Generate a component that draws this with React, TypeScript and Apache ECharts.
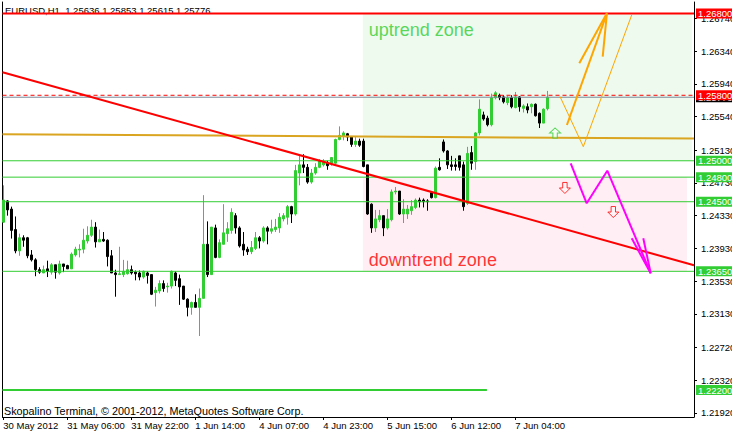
import React, { useEffect, useRef } from "react";
import * as echarts from "echarts";

// ---- data ----
const xLabelBars = [0, 16, 32, 48, 64, 80, 96, 112, 128];
const xLabelTexts = ["30 May 2012", "31 May 06:00", "31 May 22:00", "1 Jun 14:00", "4 Jun 07:00", "4 Jun 23:00", "5 Jun 15:00", "6 Jun 12:00", "7 Jun 04:00"];
const yTickValues = [1.2192, 1.2232, 1.2272, 1.2313, 1.2353, 1.2393, 1.2433, 1.2473, 1.2513, 1.2554, 1.2594, 1.2634, 1.2674];

const openP = [
  1.2425, 1.2451, 1.2441, 1.2416, 1.2390, 1.2406, 1.2406, 1.2385, 1.2379, 1.2367,
  1.2363, 1.2368, 1.2364, 1.2373, 1.2363, 1.2374, 1.2372, 1.2368, 1.2385, 1.2391,
  1.2392, 1.2402, 1.2409, 1.2419, 1.2401, 1.2404, 1.2403, 1.2384, 1.2363, 1.2361,
  1.2361, 1.2362, 1.2367, 1.2364, 1.2363, 1.2358, 1.2363, 1.2361, 1.2339, 1.2341,
  1.2350, 1.2346, 1.2347, 1.2363, 1.2356, 1.2347, 1.2331, 1.2321, 1.2327, 1.2321,
  1.2332, 1.2398, 1.2361, 1.2418, 1.2382, 1.2398, 1.2411, 1.2415, 1.2433, 1.2418,
  1.2398, 1.2392, 1.2389, 1.2393, 1.2406, 1.2402, 1.2418, 1.2414, 1.2416, 1.2418,
  1.2429, 1.2431, 1.2444, 1.2435, 1.2485, 1.2495, 1.2492, 1.2474, 1.2485, 1.2492,
  1.2495, 1.2497, 1.2497, 1.2497, 1.2526, 1.2530, 1.2533, 1.2529, 1.2520, 1.2524,
  1.2524, 1.2495, 1.2447, 1.2418, 1.2428, 1.2433, 1.2418, 1.2428, 1.2462, 1.2463,
  1.2435, 1.2435, 1.2439, 1.2443, 1.2452, 1.2452, 1.2451, 1.2461, 1.2455, 1.2492,
  1.2523, 1.2512, 1.2495, 1.2495, 1.2506, 1.2495, 1.2448, 1.2510, 1.2499, 1.2534,
  1.2556, 1.2552, 1.2544, 1.2577, 1.2580, 1.2578, 1.2571, 1.2577, 1.2565, 1.2578,
  1.2564, 1.2566, 1.2566, 1.2569, 1.2558, 1.2546, 1.25636,
];
const closeP = [
  1.2452, 1.2440, 1.2415, 1.2390, 1.2406, 1.2403, 1.2384, 1.2379, 1.2367, 1.2364,
  1.2367, 1.2365, 1.2373, 1.2364, 1.2374, 1.2371, 1.2368, 1.2386, 1.2392, 1.2392,
  1.2403, 1.2409, 1.2419, 1.2401, 1.2404, 1.2402, 1.2383, 1.2363, 1.2361, 1.2362,
  1.2365, 1.2367, 1.2363, 1.2362, 1.2358, 1.2365, 1.2360, 1.2337, 1.2342, 1.2350,
  1.2344, 1.2347, 1.2365, 1.2354, 1.2346, 1.2331, 1.2321, 1.2327, 1.2321, 1.2332,
  1.2398, 1.2361, 1.2419, 1.2382, 1.2400, 1.2412, 1.2417, 1.2437, 1.2418, 1.2396,
  1.2391, 1.2389, 1.2394, 1.2406, 1.2402, 1.2418, 1.2414, 1.2417, 1.2419, 1.2431,
  1.2433, 1.2444, 1.2435, 1.2488, 1.2495, 1.2492, 1.2474, 1.2485, 1.2492, 1.2500,
  1.2498, 1.2494, 1.2504, 1.2526, 1.2531, 1.2534, 1.2529, 1.2520, 1.2524, 1.2519,
  1.2493, 1.2435, 1.2418, 1.2429, 1.2433, 1.2418, 1.2429, 1.2462, 1.2463, 1.2435,
  1.2441, 1.2441, 1.2444, 1.2452, 1.2450, 1.2450, 1.2450, 1.2455, 1.2491, 1.2489,
  1.2512, 1.2495, 1.2493, 1.2493, 1.2492, 1.2444, 1.2509, 1.2497, 1.2534, 1.2563,
  1.2551, 1.2544, 1.2577, 1.2583, 1.2577, 1.2572, 1.2577, 1.2566, 1.2578, 1.2566,
  1.2567, 1.2562, 1.2569, 1.2555, 1.2546, 1.2563, 1.25776,
];
const lowP = [
  1.2424, 1.2433, 1.2405, 1.2387, 1.2384, 1.2395, 1.2381, 1.2377, 1.2359, 1.2362,
  1.2363, 1.2358, 1.2361, 1.2356, 1.2361, 1.2364, 1.2368, 1.2368, 1.2383, 1.2382,
  1.2387, 1.2399, 1.2407, 1.2394, 1.2401, 1.2401, 1.2371, 1.2363, 1.2334, 1.2361,
  1.2358, 1.2361, 1.2361, 1.2354, 1.2354, 1.2356, 1.2350, 1.2336, 1.2322, 1.2338,
  1.2340, 1.2339, 1.2344, 1.2347, 1.2324, 1.2330, 1.2310, 1.2312, 1.2321, 1.2286,
  1.2332, 1.2358, 1.2361, 1.2381, 1.2381, 1.2398, 1.2401, 1.2411, 1.2411, 1.2394,
  1.2384, 1.2385, 1.2386, 1.2391, 1.2393, 1.2400, 1.2398, 1.2411, 1.2413, 1.2412,
  1.2426, 1.2422, 1.2424, 1.2433, 1.2470, 1.2485, 1.2472, 1.2472, 1.2483, 1.2491,
  1.2493, 1.2489, 1.2494, 1.2496, 1.2525, 1.2525, 1.2524, 1.2517, 1.2517, 1.2517,
  1.2492, 1.2434, 1.2412, 1.2413, 1.2425, 1.2408, 1.2416, 1.2426, 1.2459, 1.2434,
  1.2424, 1.2429, 1.2434, 1.2441, 1.2443, 1.2443, 1.2439, 1.2454, 1.2454, 1.2488,
  1.2510, 1.2490, 1.2488, 1.2488, 1.2488, 1.2439, 1.2446, 1.2489, 1.2489, 1.2531,
  1.2549, 1.2542, 1.2542, 1.2575, 1.2574, 1.2570, 1.2568, 1.2564, 1.2564, 1.2560,
  1.2559, 1.2558, 1.2558, 1.2554, 1.2540, 1.2546, 1.25615,
];
const highP = [
  1.2470, 1.2452, 1.2444, 1.2432, 1.2411, 1.2409, 1.2407, 1.2391, 1.2381, 1.2370,
  1.2372, 1.2378, 1.2375, 1.2373, 1.2378, 1.2374, 1.2373, 1.2388, 1.2395, 1.2398,
  1.2417, 1.2420, 1.2428, 1.2425, 1.2416, 1.2413, 1.2404, 1.2391, 1.2367, 1.2395,
  1.2379, 1.2378, 1.2372, 1.2366, 1.2366, 1.2366, 1.2365, 1.2361, 1.2346, 1.2354,
  1.2354, 1.2351, 1.2366, 1.2365, 1.2361, 1.2347, 1.2332, 1.2328, 1.2337, 1.2344,
  1.2458, 1.2426, 1.2419, 1.2422, 1.2404, 1.2447, 1.2425, 1.2442, 1.2436, 1.2420,
  1.2413, 1.2395, 1.2402, 1.2413, 1.2408, 1.2420, 1.2420, 1.2428, 1.2429, 1.2436,
  1.2436, 1.2446, 1.2445, 1.2495, 1.2508, 1.2508, 1.2496, 1.2490, 1.2497, 1.2502,
  1.2502, 1.2500, 1.2504, 1.2527, 1.2542, 1.2536, 1.2534, 1.2530, 1.2529, 1.2527,
  1.2527, 1.2495, 1.2448, 1.2440, 1.2440, 1.2433, 1.2441, 1.2465, 1.2468, 1.2463,
  1.2453, 1.2446, 1.2452, 1.2454, 1.2455, 1.2454, 1.2453, 1.2463, 1.2493, 1.2503,
  1.2526, 1.2513, 1.2506, 1.2503, 1.2506, 1.2499, 1.2517, 1.2518, 1.2535, 1.2575,
  1.2560, 1.2555, 1.2582, 1.2585, 1.2582, 1.2580, 1.2579, 1.2580, 1.2584, 1.2579,
  1.2569, 1.2570, 1.2570, 1.2570, 1.2559, 1.2564, 1.25853,
];

const resistanceLevels = [1.268];
const greenLevels = [1.25, 1.248, 1.245, 1.2365];
const alertLevel = 1.258;
const bidPrice = 1.25776;
const lowSupport = [[-0.2, 1.222], [120.9, 1.222]];
const redTrend = [[-0.2, 1.26082], [172.675, 1.23724]];
const goldTrend = [[-0.2, 1.25324], [172.675, 1.25271]];
const orangeShaft = [[140.9, 1.25437], [150.9, 1.26801]];
const orangeHead = [[144.0, 1.2619], [150.9, 1.26801], [149.85, 1.26271]];
const orangeThin = [[139.2, 1.25782], [145.0, 1.25172], [157.1, 1.2678]];
const magentaPath = [[141.85, 1.24969], [145.85, 1.24481], [151.0, 1.24879], [161.85, 1.23626]];
const magentaHead = [[157.1, 1.24053], [161.85, 1.23626], [160.0, 1.24053]];
const upArrowMarks = [[137.95, 1.25339]];
const downArrowMarks = [[140.4, 1.24668], [152.5, 1.24374]];
const uptrendZone = [[89.9, 1.268], [172.1, 1.25]];
const downtrendZone = [[89.9, 1.248], [170.9, 1.2365]];
const uptrendLabelAt = [91.25, 1.26592];
const downtrendLabelAt = [91.25, 1.23784];

const FONT = "Liberation Sans";
const GREEN = "#32CD32";
const RED = "#FF0000";
const X_MIN = -0.2;
const X_MAX = 172.675;

export default function App() {
  const ref = useRef<HTMLDivElement>(null);
  useEffect(() => {
    if (!ref.current) return;
    const chart = echarts.init(ref.current, undefined, { renderer: "svg" });
    const last = openP.length - 1;
    const header = `EURUSD,H1\u00A0 ${openP[last].toFixed(5)} ${highP[last].toFixed(5)} ${lowP[last].toFixed(5)} ${closeP[last].toFixed(5)}`;
    const candles = openP.map((o, i) => [i, o, closeP[i], lowP[i], highP[i]]);
    const fmt = (p: any) => Number(p.value).toFixed(5);
    const boxLabel = (bg: string) => ({
      show: true, position: "end", distance: 2, formatter: fmt, color: "#fff",
      backgroundColor: bg, padding: [1, 2, 0, 2], fontSize: 9.5, lineHeight: 9, fontFamily: FONT,
    });
    const yMin = 1.21871, yMax = 1.26939;
    const lineSeries = (data: number[][], color: string, width: number, z = 5, type: any = "solid") => ({
      type: "line", data, showSymbol: false, symbol: "none", silent: true, z,
      lineStyle: { color, width, type, opacity: 1 }, animation: false,
    });
    const level = (v: number) => [[X_MIN, v], [X_MAX, v]];
    const option: any = {
      animation: false,
      backgroundColor: "#fff",
      grid: { left: 2.5, right: 38, top: 2, bottom: 17, containLabel: false, outerBoundsMode: "none" },
      xAxis: {
        type: "value", min: X_MIN, max: X_MAX,
        axisLine: { show: true, onZero: false, lineStyle: { color: "#000", width: 1 } },
        axisTick: { show: true, length: 3, customValues: xLabelBars, lineStyle: { color: "#000" } },
        axisLabel: {
          show: true, customValues: xLabelBars, align: "left", margin: 3,
          formatter: (v: number) => { const k = xLabelBars.indexOf(Math.round(v)); return k >= 0 ? xLabelTexts[k] : ""; },
          color: "#000", fontSize: 9.5, fontFamily: FONT,
        },
        splitLine: { show: false },
      },
      yAxis: [
        {
          type: "value", position: "right", min: yMin, max: yMax,
          axisLine: { show: true, onZero: false, lineStyle: { color: "#000", width: 1 } },
          axisTick: { show: true, length: 3, customValues: yTickValues, lineStyle: { color: "#000" } },
          axisLabel: { show: true, customValues: yTickValues, formatter: (v: number) => v.toFixed(5), margin: 7, color: "#000", fontSize: 9.5, fontFamily: FONT },
          splitLine: { show: false },
        },
        {
          type: "value", position: "left", min: yMin, max: yMax,
          axisLine: { show: true, onZero: false, lineStyle: { color: "#000", width: 1 } },
          axisTick: { show: false }, axisLabel: { show: false }, splitLine: { show: false },
        },
      ],
      graphic: [
        { type: "text", x: 5, y: 10.3, z: 0, style: { text: header, fill: "#000", font: `9.5px "${FONT}"`, verticalAlign: "middle", align: "left" } },
        { type: "text", x: 4, y: 410.5, z: 0, style: { text: "Skopalino Terminal, © 2001-2012, MetaQuotes Software Corp.", fill: "#000", font: `10.8px "${FONT}"`, verticalAlign: "middle", align: "left" } },
      ],
      series: [
        {
          type: "line", data: [], z: 1, silent: true,
          markArea: {
            silent: true, precision: 5,
            data: [
              [{ xAxis: uptrendZone[0][0], yAxis: uptrendZone[0][1], itemStyle: { color: "#EDFAED" } }, { xAxis: uptrendZone[1][0], yAxis: uptrendZone[1][1] }],
              [{ xAxis: downtrendZone[0][0], yAxis: downtrendZone[0][1], itemStyle: { color: "#FFEEF3" } }, { xAxis: downtrendZone[1][0], yAxis: downtrendZone[1][1] }],
            ],
          },
        },
        {
          type: "scatter", data: [uptrendLabelAt], symbolSize: 1, z: 2, silent: true,
          itemStyle: { color: "rgba(0,0,0,0)" },
          label: { show: true, position: "right", distance: 0, formatter: "uptrend zone", color: GREEN, fontSize: 18, fontFamily: FONT },
        },
        {
          type: "scatter", data: [downtrendLabelAt], symbolSize: 1, z: 2, silent: true,
          itemStyle: { color: "rgba(0,0,0,0)" },
          label: { show: true, position: "right", distance: 0, formatter: "downtrend zone", color: RED, fontSize: 18, fontFamily: FONT },
        },
        {
          type: "candlestick", data: candles, z: 3, barWidth: 2,
          encode: { x: 0, y: [1, 2, 3, 4] },
          itemStyle: { color: GREEN, color0: "#000", borderColor: GREEN, borderColor0: "#000", borderWidth: 1 },
        },
        ...greenLevels.map((v) => lineSeries(level(v), GREEN, 1, 4)),
        lineSeries(level(bidPrice), "#7A8A9A", 1, 4),
        lineSeries(level(alertLevel), RED, 1, 4, [4, 3]),
        ...resistanceLevels.map((v) => lineSeries(level(v), RED, 2, 4)),
        lineSeries(goldTrend, "#DAA520", 2),
        lineSeries(redTrend, RED, 2),
        lineSeries(lowSupport, GREEN, 2),
        lineSeries(orangeThin, "#FFA500", 1, 6),
        lineSeries(orangeShaft, "#FFA500", 2, 6),
        lineSeries(orangeHead, "#FFA500", 2, 6),
        lineSeries(magentaPath, "#FF00FF", 2, 6),
        lineSeries(magentaHead, "#FF00FF", 2, 6),
        {
          type: "line", data: [], z: 7, silent: true,
          markLine: {
            silent: true, symbol: ["none", "none"], animation: false, precision: 5,
            lineStyle: { color: "rgba(0,0,0,0)", width: 0 },
            data: [
              ...greenLevels.map((v) => ({ yAxis: v, label: boxLabel(GREEN) })),
              { yAxis: lowSupport[0][1], label: boxLabel(GREEN) },
              { yAxis: bidPrice, label: boxLabel("#000") },
              { yAxis: alertLevel, label: boxLabel(RED) },
              ...resistanceLevels.map((v) => ({ yAxis: v, label: boxLabel(RED) })),
            ],
          },
        },
        {
          type: "scatter", data: upArrowMarks, z: 8, silent: true,
          symbol: "path://M5,0L10,5L7,5L7,10L3,10L3,5L0,5Z", symbolSize: [11, 10],
          itemStyle: { color: "rgba(255,255,255,0.5)", borderColor: GREEN, borderWidth: 1 },
        },
        {
          type: "scatter", data: downArrowMarks, z: 8, silent: true,
          symbol: "path://M3,0L7,0L7,5L10,5L5,10L0,5L3,5Z", symbolSize: [11, 11],
          itemStyle: { color: "rgba(255,255,255,0.5)", borderColor: RED, borderWidth: 1 },
        },
      ],
    };
    chart.setOption(option);
    return () => chart.dispose();
  }, []);
  return <div ref={ref} style={{ position: "fixed", left: 0, top: 0, width: 732, height: 434, background: "#fff" }} />;
}
